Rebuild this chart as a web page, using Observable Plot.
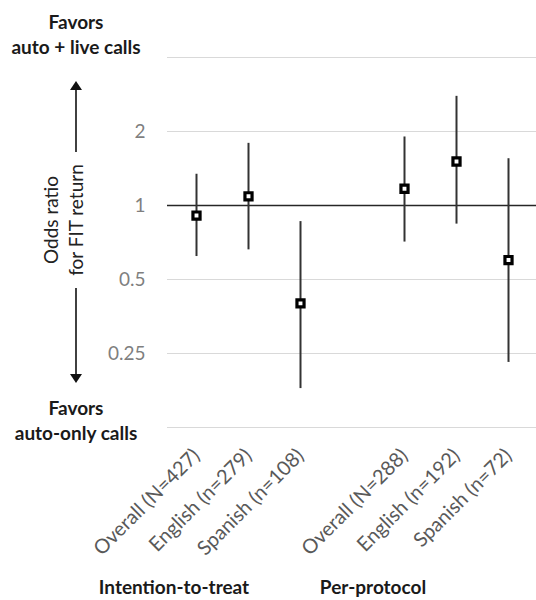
<!DOCTYPE html>
<html>
<head>
<meta charset="utf-8">
<script src="https://cdn.jsdelivr.net/npm/d3@7"></script>
<script src="https://cdn.jsdelivr.net/npm/@observablehq/plot@0.6"></script>
<style>
  html, body { margin: 0; padding: 0; background: #fff; }
  #chart svg { display: block; }
</style>
</head>
<body>
<div id="chart"></div>
<script>
// ---- data ----
const categories = ["Overall (N=427)", "English (n=279)", "Spanish (n=108)", " ", "Overall (N=288)", "English (n=192)", "Spanish (n=72)"];
const groups = ["Intention-to-treat", "Per-protocol"];
const studyCats = ["Overall (N=427)", "English (n=279)", "Spanish (n=108)", "Overall (N=288)", "English (n=192)", "Spanish (n=72)"];
const oddsRatio = [0.91, 1.09, 0.40, 1.17, 1.51, 0.60];
const ciLower   = [0.62, 0.66, 0.18, 0.71, 0.84, 0.23];
const ciUpper   = [1.34, 1.79, 0.86, 1.90, 2.78, 1.55];
const yTicks = [0.25, 0.5, 1, 2];
const gridValues = [0.125, 0.25, 0.5, 2, 4];
const refValue = [1];

const data = studyCats.map((c, i) => ({cat: c, or: oddsRatio[i], lo: ciLower[i], hi: ciUpper[i]}));

const FONT = "Lato, 'Open Sans', sans-serif";

const plot = Plot.plot({
  width: 536,
  height: 600,
  marginLeft: 167,
  marginRight: 0,
  marginTop: 57,
  marginBottom: 173,
  style: {fontFamily: FONT, background: "#fff", overflow: "visible"},
  x: {type: "band", domain: categories, padding: 0},
  y: {type: "log", base: 2, domain: [0.125, 4]},
  marks: [
    Plot.ruleY(gridValues, {stroke: "#d9d9d9", strokeWidth: 1.2}),
    Plot.ruleY(refValue, {stroke: "#262626", strokeWidth: 1.5}),
    Plot.axisY(yTicks, {tickSize: 0, tickPadding: 22, fontSize: 19, fill: "#7f7f7f", label: null, tickFormat: d => String(d)}),
    Plot.axisX({tickSize: 0, tickPadding: 25, tickRotate: -45, fontSize: 20, fill: "#595959", label: null}),
    Plot.ruleX(data, {x: "cat", y1: "lo", y2: "hi", stroke: "#333", strokeWidth: 2}),
    Plot.dot(data, {x: "cat", y: "or", symbol: "square", r: 4, fill: "white", stroke: "black", strokeWidth: 3.2})
  ]
});

document.getElementById("chart").appendChild(plot);

// ---- annotations ----
const svg = d3.select(plot);
const g = svg.append("g").attr("font-family", FONT);

function boldText(x, y, t) {
  g.append("text").attr("x", x).attr("y", y).attr("text-anchor", "middle")
    .attr("font-size", 19).attr("font-weight", "bold").attr("fill", "#1a1a1a").text(t);
}
boldText(76, 29, "Favors");
boldText(76, 54, "auto + live calls");
boldText(76, 415, "Favors");
boldText(76, 440, "auto-only calls");

// arrows
const ax = 76;
g.append("line").attr("x1", ax).attr("x2", ax).attr("y1", 152).attr("y2", 88).attr("stroke", "#111").attr("stroke-width", 1.6);
g.append("path").attr("d", `M${ax - 6},${90} L${ax + 6},${90} L${ax},${81} Z`).attr("fill", "#111");
g.append("line").attr("x1", ax).attr("x2", ax).attr("y1", 288).attr("y2", 376).attr("stroke", "#111").attr("stroke-width", 1.6);
g.append("path").attr("d", `M${ax - 6},${374} L${ax + 6},${374} L${ax},${383} Z`).attr("fill", "#111");

// rotated y-axis title
const yt = g.append("text").attr("transform", "translate(0,220) rotate(-90)")
  .attr("text-anchor", "middle").attr("font-size", 19).attr("fill", "#222");
yt.append("tspan").attr("x", 0).attr("y", 58).text("Odds ratio");
yt.append("tspan").attr("x", 0).attr("y", 83).text("for FIT return");

// group labels
boldText(174, 594, groups[0]);
boldText(373, 594, groups[1]);
</script>
</body>
</html>
